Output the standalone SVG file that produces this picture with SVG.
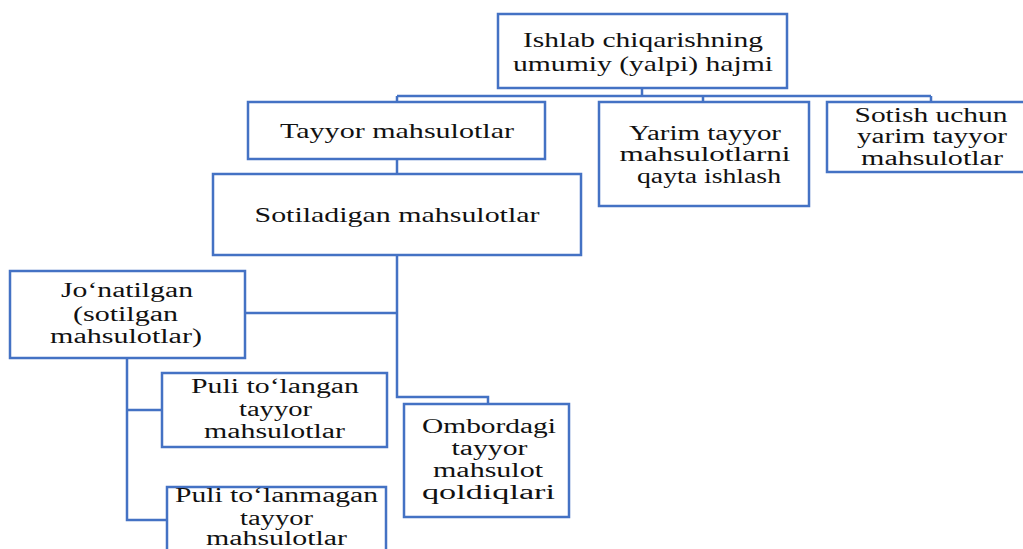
<svg xmlns="http://www.w3.org/2000/svg" width="1023" height="549" viewBox="0 0 1023 549">
<style>
.box{fill:#fff;stroke:#4472C4;stroke-width:2.5}
.ln{fill:none;stroke:#4472C4;stroke-width:2.5}
.t{font-family:'Liberation Serif','Times New Roman',serif;font-size:20px;fill:#111;text-anchor:middle}
</style>
<rect width="1023" height="549" fill="#fff"/>
<g id="connectors">
<path class="ln" d="M642 88V96M397 96H931M397 96V102M703 96V102M931 96V102"/>
<path class="ln" d="M397 159V174"/>
<path class="ln" d="M397 255V397H488V404M245 313H397"/>
<path class="ln" d="M127 358V520H167M127 410H162"/>
</g>
<g id="n-top" class="t">
<rect class="box" x="498" y="14" width="289" height="74"/>
<text x="643" y="47" font-size="21" textLength="240" lengthAdjust="spacingAndGlyphs">Ishlab chiqarishning</text>
<text x="643" y="71" font-size="21" textLength="260" lengthAdjust="spacingAndGlyphs">umumiy (yalpi) hajmi</text>
</g>
<g id="n-tayyor" class="t">
<rect class="box" x="248" y="102" width="297" height="57"/>
<text x="397" y="138" font-size="21" textLength="234" lengthAdjust="spacingAndGlyphs">Tayyor mahsulotlar</text>
</g>
<g id="n-yarim" class="t">
<rect class="box" x="599" y="102" width="210" height="104"/>
<text x="705" y="140" textLength="152" lengthAdjust="spacingAndGlyphs">Yarim tayyor</text>
<text x="705" y="161" textLength="171" lengthAdjust="spacingAndGlyphs">mahsulotlarni</text>
<text x="709" y="183" textLength="144" lengthAdjust="spacingAndGlyphs">qayta ishlash</text>
</g>
<g id="n-sotish" class="t">
<rect class="box" x="827" y="102" width="210" height="70"/>
<text x="931" y="122" textLength="153" lengthAdjust="spacingAndGlyphs">Sotish uchun</text>
<text x="932" y="143" textLength="150" lengthAdjust="spacingAndGlyphs">yarim tayyor</text>
<text x="932" y="165" textLength="142" lengthAdjust="spacingAndGlyphs">mahsulotlar</text>
</g>
<g id="n-sotiladigan" class="t">
<rect class="box" x="213" y="174" width="368" height="81"/>
<text x="397" y="222" font-size="21" textLength="285" lengthAdjust="spacingAndGlyphs">Sotiladigan mahsulotlar</text>
</g>
<g id="n-jonatilgan" class="t">
<rect class="box" x="10" y="271" width="235" height="87"/>
<text x="127" y="297" textLength="132" lengthAdjust="spacingAndGlyphs">Jo‘natilgan</text>
<text x="125.5" y="321" textLength="105" lengthAdjust="spacingAndGlyphs">(sotilgan</text>
<text x="126" y="343" textLength="152" lengthAdjust="spacingAndGlyphs">mahsulotlar)</text>
</g>
<g id="n-puli1" class="t">
<rect class="box" x="162" y="373" width="225" height="74"/>
<text x="275" y="393" textLength="168" lengthAdjust="spacingAndGlyphs">Puli to‘langan</text>
<text x="275.5" y="416" textLength="73" lengthAdjust="spacingAndGlyphs">tayyor</text>
<text x="274.5" y="438" textLength="141" lengthAdjust="spacingAndGlyphs">mahsulotlar</text>
</g>
<g id="n-puli2" class="t">
<rect class="box" x="167" y="487" width="219" height="80"/>
<text x="276.5" y="502" textLength="203" lengthAdjust="spacingAndGlyphs">Puli to‘lanmagan</text>
<text x="276.5" y="525" textLength="73" lengthAdjust="spacingAndGlyphs">tayyor</text>
<text x="276.5" y="545" textLength="141" lengthAdjust="spacingAndGlyphs">mahsulotlar</text>
</g>
<g id="n-ombor" class="t">
<rect class="box" x="404" y="404" width="165" height="113"/>
<text x="489" y="433" textLength="134" lengthAdjust="spacingAndGlyphs">Ombordagi</text>
<text x="489.5" y="455" textLength="76" lengthAdjust="spacingAndGlyphs">tayyor</text>
<text x="488" y="477" textLength="110" lengthAdjust="spacingAndGlyphs">mahsulot</text>
<text x="488.5" y="499" textLength="133" lengthAdjust="spacingAndGlyphs">qoldiqlari</text>
</g>
</svg>
